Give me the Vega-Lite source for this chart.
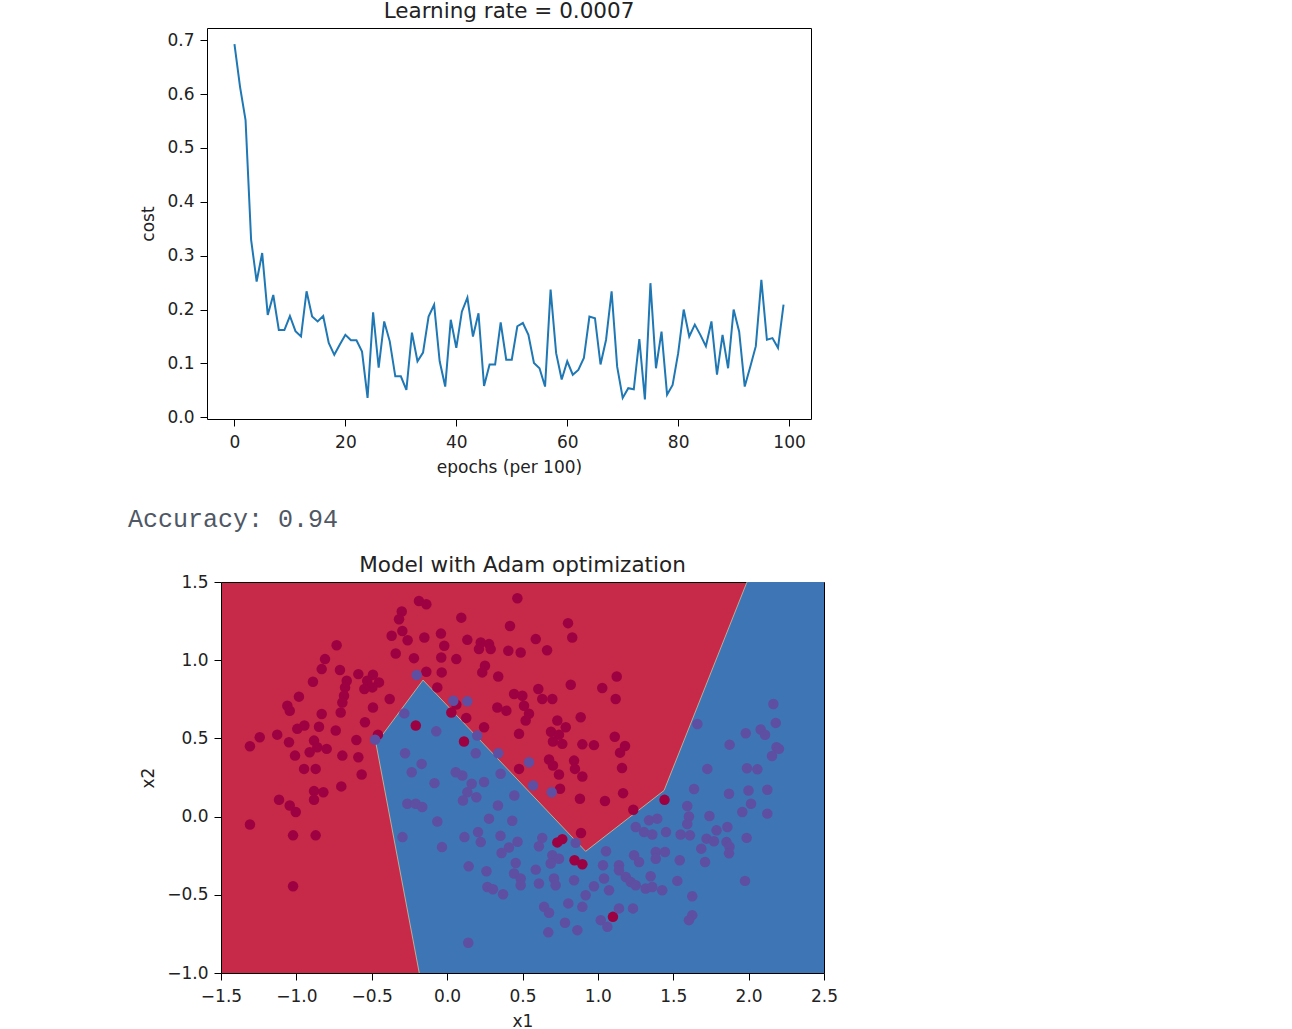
{
"$schema": "https://vega.github.io/schema/vega-lite/v6.json",
"padding": {"left": 128, "top": 0, "right": 0, "bottom": 0},
"background": "#ffffff",
"config": {
  "font": "DejaVu Sans",
  "view": {"stroke": "#000000", "strokeWidth": 1},
  "axis": {"domain": false, "grid": false, "ticks": true, "tickColor": "#000000", "tickSize": 7, "tickWidth": 1, "labelFont": "DejaVu Sans", "labelFontSize": 17, "labelColor": "#222222", "labelFlush": false, "labelPadding": 6, "titleFont": "DejaVu Sans", "titleFontSize": 17, "titleFontWeight": "normal", "titleColor": "#222222", "titlePadding": 9.5},
  "axisX": {"labelPadding": 8.5, "titlePadding": 8.5},
  "title": {"font": "DejaVu Sans", "fontSize": 21.5, "fontWeight": "normal", "color": "#222222"}
},
"datasets": {
  "cost": [
    {"epoch":0,"cost":0.693},{"epoch":1,"cost":0.614},{"epoch":2,"cost":0.552},{"epoch":3,"cost":0.330},{"epoch":4,"cost":0.252},
    {"epoch":5,"cost":0.305},{"epoch":6,"cost":0.190},{"epoch":7,"cost":0.227},{"epoch":8,"cost":0.162},{"epoch":9,"cost":0.162},
    {"epoch":10,"cost":0.188},{"epoch":11,"cost":0.160},{"epoch":12,"cost":0.150},{"epoch":13,"cost":0.234},{"epoch":14,"cost":0.187},
    {"epoch":15,"cost":0.178},{"epoch":16,"cost":0.188},{"epoch":17,"cost":0.138},{"epoch":18,"cost":0.116},{"epoch":19,"cost":0.135},
    {"epoch":20,"cost":0.153},{"epoch":21,"cost":0.143},{"epoch":22,"cost":0.143},{"epoch":23,"cost":0.122},{"epoch":24,"cost":0.036},
    {"epoch":25,"cost":0.195},{"epoch":26,"cost":0.092},{"epoch":27,"cost":0.178},{"epoch":28,"cost":0.141},{"epoch":29,"cost":0.076},
    {"epoch":30,"cost":0.076},{"epoch":31,"cost":0.051},{"epoch":32,"cost":0.157},{"epoch":33,"cost":0.104},{"epoch":34,"cost":0.120},
    {"epoch":35,"cost":0.187},{"epoch":36,"cost":0.209},{"epoch":37,"cost":0.104},{"epoch":38,"cost":0.057},{"epoch":39,"cost":0.181},
    {"epoch":40,"cost":0.129},{"epoch":41,"cost":0.196},{"epoch":42,"cost":0.222},{"epoch":43,"cost":0.150},{"epoch":44,"cost":0.193},
    {"epoch":45,"cost":0.058},{"epoch":46,"cost":0.098},{"epoch":47,"cost":0.098},{"epoch":48,"cost":0.176},{"epoch":49,"cost":0.107},
    {"epoch":50,"cost":0.107},{"epoch":51,"cost":0.169},{"epoch":52,"cost":0.175},{"epoch":53,"cost":0.153},{"epoch":54,"cost":0.101},
    {"epoch":55,"cost":0.091},{"epoch":56,"cost":0.057},{"epoch":57,"cost":0.237},{"epoch":58,"cost":0.119},{"epoch":59,"cost":0.070},
    {"epoch":60,"cost":0.104},{"epoch":61,"cost":0.079},{"epoch":62,"cost":0.088},{"epoch":63,"cost":0.110},{"epoch":64,"cost":0.187},
    {"epoch":65,"cost":0.184},{"epoch":66,"cost":0.098},{"epoch":67,"cost":0.144},{"epoch":68,"cost":0.234},{"epoch":69,"cost":0.094},
    {"epoch":70,"cost":0.036},{"epoch":71,"cost":0.054},{"epoch":72,"cost":0.052},{"epoch":73,"cost":0.145},{"epoch":74,"cost":0.033},
    {"epoch":75,"cost":0.249},{"epoch":76,"cost":0.091},{"epoch":77,"cost":0.159},{"epoch":78,"cost":0.042},{"epoch":79,"cost":0.060},
    {"epoch":80,"cost":0.119},{"epoch":81,"cost":0.200},{"epoch":82,"cost":0.150},{"epoch":83,"cost":0.172},{"epoch":84,"cost":0.153},
    {"epoch":85,"cost":0.132},{"epoch":86,"cost":0.178},{"epoch":87,"cost":0.079},{"epoch":88,"cost":0.153},{"epoch":89,"cost":0.091},
    {"epoch":90,"cost":0.200},{"epoch":91,"cost":0.159},{"epoch":92,"cost":0.057},{"epoch":93,"cost":0.094},{"epoch":94,"cost":0.132},
    {"epoch":95,"cost":0.255},{"epoch":96,"cost":0.144},{"epoch":97,"cost":0.147},{"epoch":98,"cost":0.129},{"epoch":99,"cost":0.209}
  ],
  "region": [
    {"x1":-0.472,"lo":0.467,"hi":0.467},
    {"x1":-0.185,"lo":-1.0,"hi":0.840},
    {"x1":-0.160,"lo":-1.0,"hi":0.873},
    {"x1":0.919,"lo":-1.0,"hi":-0.222},
    {"x1":1.439,"lo":-1.0,"hi":0.167},
    {"x1":1.989,"lo":-1.0,"hi":1.5},
    {"x1":2.5,"lo":-1.0,"hi":1.5}
  ],
  "edge": [
    {"k":0,"x1":-0.185,"x2":-1.0},
    {"k":1,"x1":-0.472,"x2":0.467},
    {"k":2,"x1":-0.160,"x2":0.873},
    {"k":3,"x1":0.919,"x2":-0.222},
    {"k":4,"x1":1.439,"x2":0.167},
    {"k":5,"x1":1.989,"x2":1.5}
  ],
  "points": [
    {"x1":-0.187,"x2":1.379,"label":0},{"x1":-0.138,"x2":1.358,"label":0},{"x1":0.466,"x2":1.396,"label":0},{"x1":-0.301,"x2":1.311,"label":0},
    {"x1":-0.319,"x2":1.262,"label":0},{"x1":0.094,"x2":1.272,"label":0},{"x1":0.417,"x2":1.219,"label":0},{"x1":-0.368,"x2":1.156,"label":0},
    {"x1":-0.297,"x2":1.187,"label":0},{"x1":-0.262,"x2":1.128,"label":0},{"x1":-0.151,"x2":1.145,"label":0},{"x1":-0.041,"x2":1.170,"label":0},
    {"x1":-0.019,"x2":1.092,"label":0},{"x1":0.134,"x2":1.130,"label":0},{"x1":0.223,"x2":1.113,"label":0},{"x1":0.278,"x2":1.103,"label":0},
    {"x1":0.211,"x2":1.071,"label":0},{"x1":0.289,"x2":1.071,"label":0},{"x1":0.406,"x2":1.060,"label":0},{"x1":0.488,"x2":1.049,"label":0},
    {"x1":-0.341,"x2":1.043,"label":0},{"x1":-0.220,"x2":1.013,"label":0},{"x1":-0.039,"x2":1.017,"label":0},{"x1":0.061,"x2":1.007,"label":0},
    {"x1":-0.733,"x2":1.096,"label":0},{"x1":-0.810,"x2":1.007,"label":0},{"x1":-0.832,"x2":0.943,"label":0},{"x1":-0.711,"x2":0.937,"label":0},
    {"x1":-0.589,"x2":0.911,"label":0},{"x1":-0.492,"x2":0.907,"label":0},{"x1":-0.138,"x2":0.926,"label":0},{"x1":-0.036,"x2":0.922,"label":0},
    {"x1":0.251,"x2":0.964,"label":0},{"x1":0.233,"x2":0.922,"label":0},{"x1":0.339,"x2":0.896,"label":0},{"x1":-0.666,"x2":0.869,"label":0},
    {"x1":-0.530,"x2":0.869,"label":0},{"x1":-0.452,"x2":0.858,"label":0},{"x1":-0.496,"x2":0.826,"label":0},{"x1":-0.549,"x2":0.816,"label":0},
    {"x1":-0.890,"x2":0.862,"label":0},{"x1":-0.677,"x2":0.826,"label":0},{"x1":-0.065,"x2":0.826,"label":0},{"x1":-0.684,"x2":0.773,"label":0},
    {"x1":-0.381,"x2":0.752,"label":0},{"x1":-0.983,"x2":0.767,"label":0},{"x1":-0.695,"x2":0.730,"label":0},{"x1":-1.060,"x2":0.709,"label":0},
    {"x1":-1.044,"x2":0.677,"label":0},{"x1":-0.492,"x2":0.698,"label":0},{"x1":-0.706,"x2":0.666,"label":0},{"x1":-0.832,"x2":0.656,"label":0},
    {"x1":0.444,"x2":0.784,"label":0},{"x1":0.499,"x2":0.773,"label":0},{"x1":0.061,"x2":0.716,"label":0},{"x1":0.028,"x2":0.666,"label":0},
    {"x1":0.333,"x2":0.698,"label":0},{"x1":0.393,"x2":0.677,"label":0},{"x1":0.510,"x2":0.709,"label":0},{"x1":0.127,"x2":0.631,"label":0},
    {"x1":-0.545,"x2":0.603,"label":0},{"x1":-0.850,"x2":0.575,"label":0},{"x1":-0.947,"x2":0.582,"label":0},{"x1":-0.994,"x2":0.561,"label":0},
    {"x1":-0.739,"x2":0.550,"label":0},{"x1":-0.208,"x2":0.582,"label":0},{"x1":0.245,"x2":0.571,"label":0},{"x1":0.521,"x2":0.614,"label":0},
    {"x1":-1.127,"x2":0.524,"label":0},{"x1":-1.243,"x2":0.507,"label":0},{"x1":-1.308,"x2":0.450,"label":0},{"x1":-1.049,"x2":0.475,"label":0},
    {"x1":-0.883,"x2":0.486,"label":0},{"x1":-0.861,"x2":0.443,"label":0},{"x1":-0.799,"x2":0.433,"label":0},{"x1":-0.912,"x2":0.411,"label":0},
    {"x1":-0.602,"x2":0.490,"label":0},{"x1":0.112,"x2":0.480,"label":0},{"x1":-1.009,"x2":0.390,"label":0},{"x1":-0.695,"x2":0.390,"label":0},
    {"x1":-0.589,"x2":0.379,"label":0},{"x1":0.477,"x2":0.529,"label":0},{"x1":-0.949,"x2":0.305,"label":0},{"x1":-0.872,"x2":0.305,"label":0},
    {"x1":-0.567,"x2":0.269,"label":0},{"x1":0.477,"x2":0.305,"label":0},{"x1":-0.459,"x2":0.524,"label":0},{"x1":0.543,"x2":0.658,"label":0},
    {"x1":-0.702,"x2":0.193,"label":0},{"x1":-0.883,"x2":0.163,"label":0},{"x1":-0.821,"x2":0.156,"label":0},{"x1":-0.883,"x2":0.108,"label":0},
    {"x1":-1.115,"x2":0.108,"label":0},{"x1":-1.044,"x2":0.071,"label":0},{"x1":-1.004,"x2":0.029,"label":0},{"x1":-1.308,"x2":-0.050,"label":0},
    {"x1":-1.022,"x2":-0.120,"label":0},{"x1":-0.872,"x2":-0.120,"label":0},{"x1":-1.022,"x2":-0.445,"label":0},
    {"x1":0.802,"x2":1.237,"label":0},{"x1":0.830,"x2":1.145,"label":0},{"x1":0.588,"x2":1.135,"label":0},{"x1":0.663,"x2":1.064,"label":0},
    {"x1":1.125,"x2":0.896,"label":0},{"x1":0.820,"x2":0.843,"label":0},{"x1":1.029,"x2":0.822,"label":0},{"x1":1.118,"x2":0.752,"label":0},
    {"x1":0.605,"x2":0.816,"label":0},{"x1":0.631,"x2":0.752,"label":0},{"x1":0.698,"x2":0.752,"label":0},{"x1":0.886,"x2":0.635,"label":0},
    {"x1":0.731,"x2":0.614,"label":0},{"x1":0.787,"x2":0.571,"label":0},{"x1":0.689,"x2":0.543,"label":0},{"x1":0.742,"x2":0.524,"label":0},
    {"x1":0.702,"x2":0.480,"label":0},{"x1":0.764,"x2":0.465,"label":0},{"x1":0.897,"x2":0.462,"label":0},{"x1":0.974,"x2":0.457,"label":0},
    {"x1":1.112,"x2":0.511,"label":0},{"x1":1.180,"x2":0.451,"label":0},{"x1":1.147,"x2":0.409,"label":0},{"x1":0.676,"x2":0.365,"label":0},
    {"x1":0.702,"x2":0.327,"label":0},{"x1":0.842,"x2":0.358,"label":0},{"x1":0.848,"x2":0.305,"label":0},{"x1":0.742,"x2":0.269,"label":0},
    {"x1":1.160,"x2":0.311,"label":0},{"x1":0.897,"x2":0.256,"label":0},
    {"x1":0.749,"x2":0.178,"label":0},{"x1":0.881,"x2":0.114,"label":0},{"x1":1.047,"x2":0.100,"label":0},{"x1":1.167,"x2":0.150,"label":0},
    {"x1":1.235,"x2":0.044,"label":0},{"x1":1.442,"x2":0.107,"label":0},{"x1":0.888,"x2":-0.105,"label":0},{"x1":0.731,"x2":-0.165,"label":0},
    {"x1":0.764,"x2":-0.144,"label":0},{"x1":0.845,"x2":-0.279,"label":0},{"x1":0.897,"x2":-0.305,"label":0},{"x1":1.100,"x2":-0.641,"label":0},
    {"x1":-0.202,"x2":0.905,"label":1},{"x1":0.041,"x2":0.741,"label":1},{"x1":0.134,"x2":0.737,"label":1},{"x1":-0.284,"x2":0.660,"label":1},
    {"x1":-0.072,"x2":0.545,"label":1},{"x1":0.200,"x2":0.518,"label":1},{"x1":-0.478,"x2":0.492,"label":1},{"x1":-0.279,"x2":0.405,"label":1},
    {"x1":0.190,"x2":0.405,"label":1},{"x1":0.339,"x2":0.405,"label":1},{"x1":-0.169,"x2":0.337,"label":1},{"x1":-0.235,"x2":0.284,"label":1},
    {"x1":0.057,"x2":0.284,"label":1},{"x1":0.101,"x2":0.263,"label":1},{"x1":0.355,"x2":0.274,"label":1},{"x1":0.543,"x2":0.348,"label":1},
    {"x1":-0.084,"x2":0.214,"label":1},{"x1":0.163,"x2":0.210,"label":1},{"x1":0.245,"x2":0.221,"label":1},{"x1":-0.264,"x2":0.082,"label":1},
    {"x1":-0.208,"x2":0.082,"label":1},{"x1":-0.165,"x2":0.061,"label":1},{"x1":0.134,"x2":0.156,"label":1},{"x1":0.105,"x2":0.103,"label":1},
    {"x1":0.194,"x2":0.124,"label":1},{"x1":0.446,"x2":0.135,"label":1},{"x1":0.337,"x2":0.071,"label":1},{"x1":0.278,"x2":-0.013,"label":1},
    {"x1":0.432,"x2":-0.027,"label":1},{"x1":-0.065,"x2":-0.031,"label":1},{"x1":-0.296,"x2":-0.131,"label":1},{"x1":-0.034,"x2":-0.195,"label":1},
    {"x1":0.115,"x2":-0.131,"label":1},{"x1":0.205,"x2":-0.099,"label":1},{"x1":0.223,"x2":-0.163,"label":1},{"x1":0.354,"x2":-0.123,"label":1},
    {"x1":0.467,"x2":-0.161,"label":1},{"x1":0.410,"x2":-0.198,"label":1},{"x1":0.361,"x2":-0.233,"label":1},{"x1":0.455,"x2":-0.297,"label":1},
    {"x1":0.143,"x2":-0.318,"label":1},{"x1":0.261,"x2":-0.349,"label":1},{"x1":0.444,"x2":-0.364,"label":1},{"x1":0.488,"x2":-0.396,"label":1},
    {"x1":0.488,"x2":-0.439,"label":1},{"x1":0.267,"x2":-0.450,"label":1},{"x1":0.304,"x2":-0.464,"label":1},{"x1":0.371,"x2":-0.496,"label":1},
    {"x1":0.140,"x2":-0.807,"label":1},
    {"x1":0.570,"x2":0.199,"label":1},{"x1":0.694,"x2":0.156,"label":1},{"x1":1.726,"x2":0.305,"label":1},{"x1":1.638,"x2":0.177,"label":1},
    {"x1":1.870,"x2":0.146,"label":1},{"x1":1.999,"x2":0.167,"label":1},{"x1":2.016,"x2":0.082,"label":1},{"x1":1.958,"x2":0.029,"label":1},
    {"x1":2.124,"x2":0.172,"label":1},{"x1":2.124,"x2":0.019,"label":1},{"x1":1.593,"x2":0.068,"label":1},{"x1":1.604,"x2":0.001,"label":1},
    {"x1":1.593,"x2":-0.047,"label":1},{"x1":1.740,"x2":0.004,"label":1},{"x1":1.339,"x2":-0.024,"label":1},{"x1":1.394,"x2":-0.013,"label":1},
    {"x1":1.251,"x2":-0.067,"label":1},{"x1":1.306,"x2":-0.099,"label":1},{"x1":1.361,"x2":-0.114,"label":1},{"x1":1.452,"x2":-0.099,"label":1},
    {"x1":1.549,"x2":-0.114,"label":1},{"x1":1.611,"x2":-0.120,"label":1},{"x1":1.787,"x2":-0.088,"label":1},{"x1":1.859,"x2":-0.067,"label":1},
    {"x1":1.721,"x2":-0.141,"label":1},{"x1":1.770,"x2":-0.158,"label":1},{"x1":1.686,"x2":-0.205,"label":1},{"x1":1.853,"x2":-0.163,"label":1},
    {"x1":1.873,"x2":-0.193,"label":1},{"x1":1.870,"x2":-0.235,"label":1},{"x1":1.987,"x2":-0.136,"label":1},{"x1":0.631,"x2":-0.136,"label":1},
    {"x1":0.609,"x2":-0.190,"label":1},{"x1":0.853,"x2":-0.168,"label":1},{"x1":1.054,"x2":-0.222,"label":1},{"x1":1.240,"x2":-0.247,"label":1},
    {"x1":1.273,"x2":-0.290,"label":1},{"x1":1.384,"x2":-0.226,"label":1},{"x1":1.445,"x2":-0.226,"label":1},{"x1":1.384,"x2":-0.269,"label":1},
    {"x1":1.543,"x2":-0.279,"label":1},{"x1":1.711,"x2":-0.290,"label":1},{"x1":0.698,"x2":-0.247,"label":1},{"x1":0.742,"x2":-0.269,"label":1},
    {"x1":0.687,"x2":-0.300,"label":1},{"x1":0.588,"x2":-0.339,"label":1},{"x1":0.609,"x2":-0.428,"label":1},{"x1":0.709,"x2":-0.396,"label":1},
    {"x1":0.720,"x2":-0.439,"label":1},{"x1":0.842,"x2":-0.407,"label":1},{"x1":1.034,"x2":-0.311,"label":1},{"x1":1.140,"x2":-0.311,"label":1},
    {"x1":1.041,"x2":-0.396,"label":1},{"x1":0.974,"x2":-0.445,"label":1},{"x1":1.074,"x2":-0.471,"label":1},{"x1":1.140,"x2":-0.343,"label":1},
    {"x1":1.185,"x2":-0.386,"label":1},{"x1":1.218,"x2":-0.418,"label":1},{"x1":1.251,"x2":-0.439,"label":1},{"x1":1.317,"x2":-0.460,"label":1},
    {"x1":1.361,"x2":-0.450,"label":1},{"x1":1.427,"x2":-0.471,"label":1},{"x1":1.350,"x2":-0.381,"label":1},{"x1":1.527,"x2":-0.411,"label":1},
    {"x1":1.626,"x2":-0.509,"label":1},{"x1":1.976,"x2":-0.411,"label":1},{"x1":0.919,"x2":-0.503,"label":1},{"x1":0.804,"x2":-0.555,"label":1},
    {"x1":0.897,"x2":-0.577,"label":1},{"x1":0.643,"x2":-0.577,"label":1},{"x1":0.676,"x2":-0.615,"label":1},{"x1":1.140,"x2":-0.587,"label":1},
    {"x1":1.233,"x2":-0.587,"label":1},{"x1":1.019,"x2":-0.662,"label":1},{"x1":1.063,"x2":-0.705,"label":1},{"x1":0.782,"x2":-0.679,"label":1},
    {"x1":0.864,"x2":-0.726,"label":1},{"x1":0.671,"x2":-0.740,"label":1},{"x1":1.626,"x2":-0.630,"label":1},{"x1":1.604,"x2":-0.662,"label":1},
    {"x1":1.660,"x2":0.592,"label":1},{"x1":2.164,"x2":0.720,"label":1},{"x1":2.180,"x2":0.599,"label":1},{"x1":1.981,"x2":0.533,"label":1},
    {"x1":2.080,"x2":0.557,"label":1},{"x1":2.109,"x2":0.523,"label":1},{"x1":1.874,"x2":0.460,"label":1},{"x1":2.185,"x2":0.443,"label":1},
    {"x1":2.201,"x2":0.433,"label":1},{"x1":2.155,"x2":0.387,"label":1},{"x1":1.989,"x2":0.309,"label":1},{"x1":2.058,"x2":0.302,"label":1}
  ]
},
"spacing": 31,
"vconcat": [
  {
    "spacing": 0,
    "hconcat": [
      {"width": 10, "height": 1, "view": {"stroke": null}, "data": {"values": []}, "mark": "point"},
      {
        "width": 604, "height": 391,
        "title": {"text": "Learning rate = 0.0007", "baseline": "alphabetic", "offset": -11},
        "data": {"name": "cost"},
        "mark": {"type": "line", "color": "#1f77b4", "strokeWidth": 2},
        "encoding": {
          "x": {"field": "epoch", "type": "quantitative", "scale": {"domain": [-4.95, 103.95], "nice": false, "zero": false}, "axis": {"values": [0, 20, 40, 60, 80, 100], "title": "epochs (per 100)"}},
          "y": {"field": "cost", "type": "quantitative", "scale": {"domain": [-0.0032, 0.7228], "nice": false, "zero": false}, "axis": {"values": [0, 0.1, 0.2, 0.3, 0.4, 0.5, 0.6, 0.7], "format": ".1f", "title": "cost"}}
        }
      }
    ]
  },
  {
    "spacing": 0,
    "title": {"text": "Accuracy: 0.94", "anchor": "start", "font": "Liberation Mono", "fontSize": 25, "fontWeight": "normal", "color": "#4f5864", "offset": 22},
    "hconcat": [
      {"width": 10, "height": 1, "view": {"stroke": null}, "data": {"values": []}, "mark": "point"},
      {
        "width": 603, "height": 391,
        "title": {"text": "Model with Adam optimization", "baseline": "alphabetic", "offset": -20},
        "view": {"fill": "#c72949", "stroke": "#000000"},
        "layer": [
          {
            "data": {"name": "region"},
            "mark": {"type": "area", "color": "#3e75b4", "opacity": 1, "clip": true},
            "encoding": {
              "x": {"field": "x1", "type": "quantitative", "scale": {"domain": [-1.5, 2.5], "nice": false, "zero": false}, "axis": {"values": [-1.5, -1, -0.5, 0, 0.5, 1, 1.5, 2, 2.5], "format": ".1f"}, "title": "x1"},
              "y": {"field": "lo", "type": "quantitative", "scale": {"domain": [-1.0, 1.5], "nice": false, "zero": false}, "axis": {"values": [-1, -0.5, 0, 0.5, 1, 1.5], "format": ".1f"}, "title": "x2"},
              "y2": {"field": "hi"}
            }
          },
          {
            "data": {"name": "edge"},
            "mark": {"type": "line", "color": "#eef5a8", "strokeWidth": 1, "opacity": 0.55, "clip": true},
            "encoding": {
              "x": {"field": "x1", "type": "quantitative", "title": "x1"},
              "y": {"field": "x2", "type": "quantitative", "title": "x2"},
              "order": {"field": "k", "type": "quantitative"}
            }
          },
          {
            "data": {"name": "points"},
            "mark": {"type": "circle", "size": 110, "opacity": 1},
            "encoding": {
              "x": {"field": "x1", "type": "quantitative", "title": "x1"},
              "y": {"field": "x2", "type": "quantitative", "title": "x2"},
              "color": {"field": "label", "type": "nominal", "scale": {"domain": [0, 1], "range": ["#9e0142", "#5e4fa2"]}, "legend": null}
            }
          }
        ]
      }
    ]
  }
]
}
